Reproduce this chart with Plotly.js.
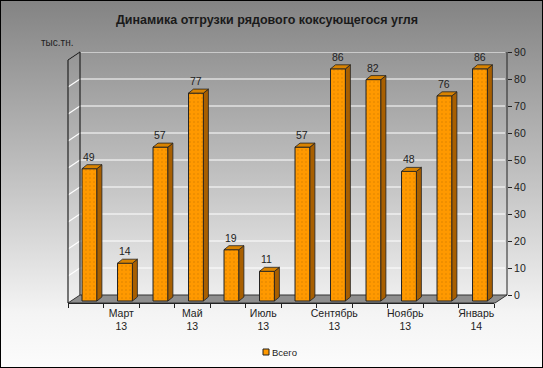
<!DOCTYPE html>
<html>
<head>
<meta charset="utf-8">
<script src="https://cdn.plot.ly/plotly-3.0.1.min.js"></script>
<style>
  html, body { margin: 0; padding: 0; }
  #chart {
    width: 543px; height: 368px;
    background: linear-gradient(to bottom, #838383 0%, #bdbdbd 45%, #f4f4f4 85%, #fcfcfc 100%);
    box-shadow: inset 0 0 0 1px #000;
  }
</style>
</head>
<body>
<div id="chart"></div>
<script>
// ---- data ----
const chartTitle = 'Динамика отгрузки рядового коксующегося угля';
const unitLabel = 'тыс.тн.';
const seriesName = 'Всего';
const categories = ['Февраль 13','Март 13','Апрель 13','Май 13','Июнь 13','Июль 13','Август 13','Сентябрь 13','Октябрь 13','Ноябрь 13','Декабрь 13','Январь 14'];
const values = [49, 14, 57, 77, 19, 11, 57, 86, 82, 48, 76, 86];
const tickLabels = ['', 'Март<br>13', '', 'Май<br>13', '', 'Июль<br>13', '', 'Сентябрь<br>13', '', 'Ноябрь<br>13', '', 'Январь<br>14'];
const yTicks = [0, 10, 20, 30, 40, 50, 60, 70, 80, 90];

// ---- geometry / style ----
const FONT = 'Liberation Sans, Arial, sans-serif';
const PL = 68, PR = 507, PT = 52, PB = 303;      // plot area in page px
const PW = PR - PL, PH = PB - PT;
const px2x = p => (p - PL) / PW;
const py2y = p => (PB - p) / PH;
const PXU = 2.7;                                   // px per value unit
const BAR_W = 0.42, BAR_OFF = -0.105;              // front face, category units
const DX = 0.14, DY = 4 / PXU;                     // depth offsets
const GRID_DY = 8 / PXU;

const idx = categories.map((c, i) => i);

// side + top faces built from values
const sideX = [], sideY = [], topX = [], topY = [];
idx.forEach(i => {
  const v = values[i];
  const x0 = i + BAR_OFF, x1 = x0 + BAR_W;
  sideX.push(x1, x1 + DX, x1 + DX, x1, x1, null);
  sideY.push(0, DY, v + DY, v, 0, null);
  topX.push(x0, x0 + DX, x1 + DX, x1, x0, null);
  topY.push(v, v + DY, v + DY, v, v, null);
});

const traces = [
  {
    type: 'bar', x: idx, y: values, name: seriesName,
    offset: BAR_OFF, width: BAR_W, showlegend: false, hoverinfo: 'skip',
    marker: { color: '#ff9900', line: { color: '#222', width: 1 },
              pattern: { shape: '.', fgcolor: '#d98000', bgcolor: '#ff9900', size: 4, solidity: 0.12 } }
  },
  { type: 'scatter', mode: 'lines', x: sideX, y: sideY, fill: 'toself', fillcolor: '#a85f00',
    line: { color: '#222', width: 0.8 }, showlegend: false, hoverinfo: 'skip' },
  { type: 'scatter', mode: 'lines', x: topX, y: topY, fill: 'toself', fillcolor: '#d98300',
    line: { color: '#222', width: 0.8 }, showlegend: false, hoverinfo: 'skip' },
  { type: 'scatter', mode: 'markers', x: [null], y: [null], yaxis: 'y2', showlegend: false, hoverinfo: 'skip' }
];

const shapes = [];
// floor
shapes.push({ type: 'path', layer: 'below', xref: 'paper', yref: 'paper',
  path: `M ${px2x(68)} ${py2y(303)} L ${px2x(80)} ${py2y(295)} L ${px2x(507)} ${py2y(295)} L ${px2x(495)} ${py2y(303)} Z`,
  fillcolor: '#8e8e8e', line: { color: '#333', width: 1 } });
// gridlines (back wall + left wall diagonals)
yTicks.forEach(v => {
  if (v === 0) return;
  shapes.push({ type: 'line', layer: 'below', xref: 'paper', yref: 'y2',
    x0: px2x(80), x1: px2x(505), y0: v, y1: v, line: { color: '#ffffff', width: 1.2 } });
  shapes.push({ type: 'line', layer: 'below', xref: 'paper', yref: 'y2',
    x0: px2x(68), x1: px2x(80), y0: v - GRID_DY, y1: v, line: { color: '#ffffff', width: 1.2 } });
});
// left wall edges
const dark = { color: '#222', width: 1.2 };
shapes.push({ type: 'line', xref: 'paper', yref: 'paper', x0: px2x(68), x1: px2x(68), y0: py2y(303), y1: py2y(60), line: dark, layer: 'below' });
shapes.push({ type: 'line', xref: 'paper', yref: 'paper', x0: px2x(80), x1: px2x(80), y0: py2y(295), y1: py2y(52), line: dark, layer: 'below' });
shapes.push({ type: 'line', xref: 'paper', yref: 'paper', x0: px2x(68), x1: px2x(80), y0: py2y(60), y1: py2y(52), line: dark, layer: 'below' });
// right axis line
shapes.push({ type: 'line', xref: 'paper', yref: 'y2', x0: 1, x1: 1, y0: 0, y1: yTicks[yTicks.length - 1], line: { color: '#222', width: 1 } });
// legend key
shapes.push({ type: 'rect', xref: 'paper', yref: 'paper', x0: px2x(263), x1: px2x(269), y0: py2y(355), y1: py2y(349),
  fillcolor: '#ff9900', line: { color: '#222', width: 1 } });

const annotations = [];
idx.forEach(i => {
  annotations.push({ x: i + BAR_OFF + BAR_W / 2, y: values[i], xref: 'x', yref: 'y',
    text: String(values[i]), showarrow: false, yanchor: 'bottom', yshift: 4,
    font: { family: FONT, size: 10.5, color: '#222' } });
});
annotations.push({ x: px2x(57), y: py2y(42), xref: 'paper', yref: 'paper', text: unitLabel, showarrow: false,
  xanchor: 'center', yanchor: 'middle', font: { family: FONT, size: 10, color: '#222' } });
annotations.push({ x: px2x(270), y: py2y(352), xref: 'paper', yref: 'paper', text: seriesName, showarrow: false,
  xanchor: 'left', yanchor: 'middle', font: { family: FONT, size: 9.5, color: '#222' } });

const layout = {
  width: 543, height: 368,
  margin: { l: PL, r: 543 - PR, t: PT, b: 368 - PB, pad: 0 },
  paper_bgcolor: 'rgba(0,0,0,0)', plot_bgcolor: 'rgba(0,0,0,0)',
  font: { family: FONT, size: 10, color: '#222' },
  showlegend: false,
  title: { text: '<b>' + chartTitle + '</b>', x: 267 / 543, xanchor: 'center', y: 1 - 20 / 368, yanchor: 'middle',
           xref: 'container', yref: 'container', font: { family: FONT, size: 12.5, color: '#1a1a1a' } },
  xaxis: {
    domain: [0, (494 - PL) / PW], range: [-0.5, categories.length - 0.5],
    tickvals: idx, ticktext: tickLabels, ticks: '', showgrid: false, zeroline: false,
    showline: true, linecolor: '#222', linewidth: 1,
    tickfont: { family: FONT, size: 10.5, color: '#222' },
    minor: { tickvals: idx.map(i => i - 0.5).concat([categories.length - 0.5]), ticks: 'outside', ticklen: 4, tickcolor: '#222', showgrid: false }
  },
  yaxis: {
    domain: [0, 1], range: [-2 / PXU, (PB - 2 - PT) / PXU],
    showticklabels: false, showgrid: false, zeroline: false, showline: false, ticks: ''
  },
  yaxis2: {
    overlaying: 'y', side: 'right', anchor: 'free', position: 1,
    range: [-(PB - 295) / PXU, (295 - PT) / PXU],
    tickvals: yTicks, ticks: 'outside', ticklen: 4, tickcolor: '#222',
    showgrid: false, zeroline: false, showline: false,
    tickfont: { family: FONT, size: 10.5, color: '#222' }
  },
  shapes: shapes,
  annotations: annotations
};

Plotly.newPlot('chart', traces, layout, { displayModeBar: false, staticPlot: true });
</script>
</body>
</html>
